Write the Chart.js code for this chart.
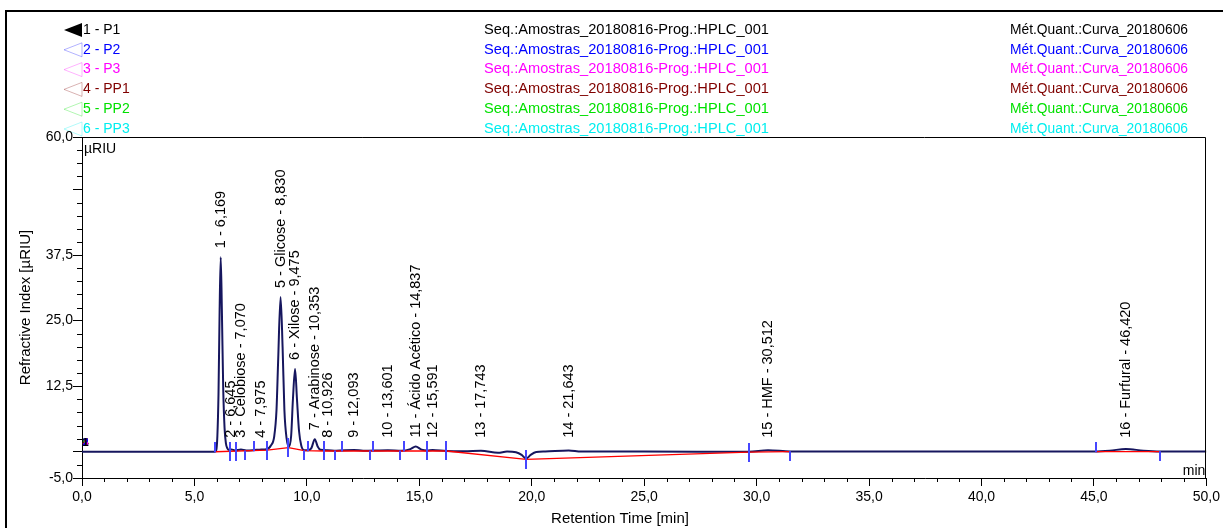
<!DOCTYPE html>
<html>
<head>
<meta charset="utf-8">
<script src="https://cdn.jsdelivr.net/npm/chart.js@4"></script>
<style>
  html, body { margin: 0; padding: 0; background: #ffffff; }
  canvas { display: block; }
</style>
</head>
<body>
<canvas id="chromatogram" width="1223" height="528"></canvas>
<script>
// ---- Samples overlaid in this run ----
const sampleNames = ['P1', 'P2', 'P3', 'PP1', 'PP2', 'PP3'];
const sampleColors = ['#000000', '#0000ff', '#ff00ff', '#800000', '#00e000', '#00eeee'];
const sequenceLabel = 'Seq.:Amostras_20180816-Prog.:HPLC_001';
const methodLabel = 'Mét.Quant.:Curva_20180606';

// ---- Detector signal (retention time in min, signal in µRIU) ----
const traceTimes = [0, 5.90, 5.97, 6.02, 6.07, 6.12, 6.169, 6.22, 6.28, 6.34, 6.40, 6.47, 6.54,
  6.645, 6.80, 7.070, 7.30, 7.60, 7.975, 8.20, 8.40, 8.55, 8.65, 8.72, 8.830, 8.92, 9.00, 9.10,
  9.20, 9.30, 9.38, 9.475, 9.56, 9.65, 9.75, 9.88, 10.05, 10.20, 10.353, 10.48, 10.60, 10.926,
  11.30, 12.093, 12.50, 13.601, 14.20, 14.60, 14.837, 15.10, 15.35, 15.591, 16.20, 17.00,
  17.743, 18.50, 18.90, 19.30, 19.55, 19.75, 19.95, 20.20, 20.60, 21.643, 22.20, 25.00,
  29.65, 30.512, 31.50, 45.00, 45.70, 46.420, 47.20, 47.95, 50.00];
const traceValues = [0, 0, 0.3, 3, 11, 27, 37.1, 27, 12, 4.5, 1.6, 0.6, 0.35,
  0.45, 0.25, 0.45, 0.25, 0.3, 0.45, 0.5, 1.2, 3, 8, 17, 29.5, 20, 8, 2.5,
  1.0, 3, 10, 15.8, 10, 4, 1.2, 0.3, 0.3, 0.7, 2.4, 1.0, 0.4, 0.3,
  0.2, 0.35, 0.2, 0.3, 0.2, 0.5, 1.0, 0.4, 0.25, 0.35, 0.15, 0.1,
  0.2, -0.2, 0.05, -0.1, -0.6, -1.3, -0.6, -0.05, 0.05, 0.25, 0.05, 0.05,
  0.0, 0.3, 0.05, 0.05, 0.2, 0.55, 0.2, 0.05, 0.05];

// ---- Integration baseline (null = no baseline drawn) ----
const baseTimes = [5.93, 8.24, 9.18, 9.89, 10.78, 12.80, 16.20, 19.75, 29.65, 31.50, 38.00, 45.07, 47.95];
const baseValues = [0.0, 0.3, 0.8, 0.2, 0.15, 0.15, 0.15, -1.45, -0.05, 0.02, null, 0.02, 0.02];

// ---- Peak start / end delimiters ----
const delimTimes = [5.93, 6.56, 6.86, 7.27, 7.67, 8.24, 9.18, 9.89, 10.04, 10.78, 11.25, 11.55,
  12.80, 12.95, 14.15, 14.33, 15.35, 16.20, 19.75, 29.65, 31.50, 45.07, 47.95];
const delimLevels = [0, 0.05, 0.1, 0.15, 0.2, 0.3, 0.8, 0.2, 0.2, 0.15, 0.15, 0.15,
  0.15, 0.15, 0.15, 0.15, 0.15, 0.15, -1.45, -0.05, 0.02, 0.02, 0.02];
const delimKinds = ['up', 'both', 'both', 'down', 'up', 'both', 'both', 'down', 'up', 'both', 'down', 'up',
  'down', 'up', 'down', 'up', 'both', 'both', 'both', 'both', 'down', 'up', 'down'];

// ---- Identified peaks ----
const peakNumbers = [1, 2, 3, 4, 5, 6, 7, 8, 9, 10, 11, 12, 13, 14, 15, 16];
const peakNames = ['', '', 'Celobiose', '', 'Glicose', 'Xilose', 'Arabinose', '', '', '',
  'Ácido Acético', '', '', '', 'HMF', 'Furfural'];
const peakTimes = [6.169, 6.645, 7.070, 7.975, 8.830, 9.475, 10.353, 10.926, 12.093, 13.601,
  14.837, 15.591, 17.743, 21.643, 30.512, 46.420];

// ---- Axis ticks ----
const yLabelledTicks = [-5, 12.5, 25, 37.5, 60];
const xLabelledTicks = [0, 5, 10, 15, 20, 25, 30, 35, 40, 45, 50];

const FONT = "'Liberation Sans', Arial, Helvetica, sans-serif";
const comma = (v, d) => v.toFixed(d).replace('.', ',');
const near = (a, b) => Math.abs(a - b) < 1e-6;
const isMajorY = v => near(v / 12.5, Math.round(v / 12.5)) || near(v, -5) || near(v, 60);
const isMajorX = v => near(v / 5, Math.round(v / 5));

// Short vertical tick images used as point markers for delimiters
function makeMark(kind) {
  const c = document.createElement('canvas');
  c.width = 2; c.height = 19;
  const g = c.getContext('2d');
  g.fillStyle = '#4646ff';
  if (kind === 'up') g.fillRect(0, 0, 2, 10);
  else if (kind === 'down') g.fillRect(0, 9, 2, 10);
  else g.fillRect(0, 0, 2, 19);
  return c;
}
const markImages = { up: makeMark('up'), down: makeMark('down'), both: makeMark('both') };

const tracePoints = traceTimes.map((t, i) => ({ x: t, y: traceValues[i] }));
const basePoints = baseTimes.map((t, i) => ({ x: t, y: baseValues[i] }));
const delimPoints = delimTimes.map((t, i) => ({ x: t, y: delimLevels[i] }));

function line(ctx, x1, y1, x2, y2) {
  ctx.beginPath(); ctx.moveTo(x1, y1); ctx.lineTo(x2, y2); ctx.stroke();
}

// draws text condensed or stretched to a given width
function fitText(ctx, text, x, y, width) {
  const w = ctx.measureText(text).width;
  ctx.save();
  ctx.translate(x, y);
  ctx.scale(width / w, 1);
  ctx.fillText(text, 0, 0);
  ctx.restore();
}

const decorations = {
  id: 'decorations',
  beforeDraw(chart) {
    const ctx = chart.ctx;
    ctx.save();
    ctx.fillStyle = '#ffffff';
    ctx.fillRect(0, 0, chart.width, chart.height);
    // outer report frame
    ctx.strokeStyle = '#000'; ctx.lineWidth = 2;
    ctx.beginPath(); ctx.moveTo(6, chart.height); ctx.lineTo(6, 11); ctx.lineTo(chart.width, 11); ctx.stroke();
    // sample header rows
    ctx.font = '14px ' + FONT;
    ctx.textBaseline = 'middle';
    ctx.textAlign = 'left';
    sampleNames.forEach((name, i) => {
      const y = 30 + i * 19.8;
      const col = sampleColors[i];
      ctx.beginPath();
      ctx.moveTo(64, y); ctx.lineTo(82, y - 7); ctx.lineTo(82, y + 7); ctx.closePath();
      if (i === 0) { ctx.fillStyle = col; ctx.fill(); }
      else { ctx.globalAlpha = 0.3; ctx.strokeStyle = col; ctx.lineWidth = 1; ctx.stroke(); ctx.globalAlpha = 1; }
      ctx.fillStyle = col;
      ctx.fillText(`${i + 1} - ${name}`, 83, y);
      fitText(ctx, sequenceLabel, 484, y, 285);
      fitText(ctx, methodLabel, 1010, y, 178);
    });
    ctx.restore();
  },
  afterDraw(chart) {
    const ctx = chart.ctx;
    const ca = chart.chartArea;
    const xs = chart.scales.x, ys = chart.scales.y;
    ctx.save();
    // plot frame: top and right edges
    ctx.strokeStyle = '#000'; ctx.lineWidth = 1;
    ctx.beginPath();
    ctx.moveTo(Math.round(ca.left), Math.round(ca.top) + 0.5);
    ctx.lineTo(Math.round(ca.right) - 0.5, Math.round(ca.top) + 0.5);
    ctx.lineTo(Math.round(ca.right) - 0.5, Math.round(ca.bottom));
    ctx.stroke();
    // minor ticks
    xs.ticks.forEach(t => {
      if (!isMajorX(t.value)) {
        const p = Math.round(xs.getPixelForValue(t.value)) + 0.5;
        line(ctx, p, ca.bottom, p, ca.bottom + 4);
      }
    });
    ys.ticks.forEach(t => {
      if (!isMajorY(t.value)) {
        const p = Math.round(ys.getPixelForValue(t.value)) + 0.5;
        line(ctx, ca.left - 5, p, ca.left, p);
      }
    });
    // axis titles and units
    ctx.fillStyle = '#000';
    ctx.font = '15px ' + FONT;
    ctx.textAlign = 'center'; ctx.textBaseline = 'middle';
    ctx.fillText('Retention Time [min]', 620, 519);
    ctx.save();
    ctx.translate(26, (ca.top + ca.bottom) / 2);
    ctx.rotate(-Math.PI / 2);
    ctx.fillText('Refractive Index [µRIU]', 0, 0);
    ctx.restore();
    ctx.font = '14px ' + FONT;
    ctx.textAlign = 'left'; ctx.textBaseline = 'alphabetic';
    ctx.fillText('µRIU', ca.left + 2, ca.top + 16);
    ctx.textAlign = 'right';
    ctx.fillText('min', ca.right - 1, ca.bottom - 3);
    // injection markers of the overlaid samples
    ctx.font = 'bold 11px ' + FONT;
    ctx.textAlign = 'center'; ctx.textBaseline = 'middle';
    for (let i = sampleNames.length - 1; i >= 0; i--) {
      ctx.fillStyle = sampleColors[i];
      ctx.fillText(String(i + 1), xs.getPixelForValue(0.16), ys.getPixelForValue(1.6));
    }
    // peak labels
    ctx.fillStyle = '#000';
    ctx.font = '14.5px ' + FONT;
    ctx.textAlign = 'left'; ctx.textBaseline = 'middle';
    const zeroPx = ys.getPixelForValue(0);
    peakTimes.forEach((t, i) => {
      const k = traceTimes.indexOf(t);
      const h = k >= 0 ? traceValues[k] : 0;
      const px = xs.getPixelForValue(t);
      const bottom = Math.min(ys.getPixelForValue(h) - 9, zeroPx - 14);
      const text = `${peakNumbers[i]} - ${peakNames[i] ? peakNames[i] + ' - ' : ''}${comma(t, 3)}`;
      ctx.save();
      ctx.translate(px, bottom);
      ctx.rotate(-Math.PI / 2);
      ctx.fillText(text, 0, 0);
      ctx.restore();
    });
    ctx.restore();
  }
};

new Chart(document.getElementById('chromatogram'), {
  type: 'line',
  data: {
    datasets: [
      {
        label: 'delimiters',
        type: 'scatter',
        data: delimPoints,
        pointStyle: ctx => markImages[delimKinds[ctx.dataIndex]],
        pointRadius: 3,
        showLine: false,
        order: 0
      },
      {
        label: 'baseline',
        data: basePoints,
        borderColor: '#ff0000',
        borderWidth: 1.3,
        pointRadius: 0,
        tension: 0,
        spanGaps: false,
        order: 1
      },
      {
        label: '1 - ' + sampleNames[0],
        data: tracePoints,
        borderColor: '#16165e',
        borderWidth: 2,
        pointRadius: 0,
        cubicInterpolationMode: 'monotone',
        order: 2
      }
    ]
  },
  options: {
    responsive: false,
    animation: false,
    events: [],
    layout: { padding: { left: 0, top: 137, right: 15, bottom: 0 } },
    plugins: { legend: { display: false }, tooltip: { enabled: false } },
    scales: {
      x: {
        type: 'linear',
        min: 0, max: 50,
        afterFit(scale) { scale.height = 50; },
        border: { display: true, color: '#000', width: 1 },
        grid: {
          drawOnChartArea: false, drawTicks: true, tickLength: 8,
          tickColor: c => (isMajorX(c.tick.value) ? '#000' : 'rgba(0,0,0,0)')
        },
        ticks: {
          stepSize: 1, autoSkip: false, maxRotation: 0, padding: 3,
          color: '#000', font: { family: FONT, size: 14 },
          callback: v => (xLabelledTicks.some(t => near(t, v)) ? comma(v, 1) : '')
        }
      },
      y: {
        type: 'linear',
        min: -5, max: 60,
        afterFit(scale) { scale.width = 82; },
        border: { display: true, color: '#000', width: 1 },
        grid: {
          drawOnChartArea: false, drawTicks: true, tickLength: 9,
          tickColor: c => (isMajorY(c.tick.value) ? '#000' : 'rgba(0,0,0,0)')
        },
        ticks: {
          stepSize: 2.5, autoSkip: false, padding: 0,
          color: '#000', font: { family: FONT, size: 14 },
          callback: v => (yLabelledTicks.some(t => near(t, v)) ? comma(v, 1) : '')
        }
      }
    }
  },
  plugins: [decorations]
});
</script>
</body>
</html>
